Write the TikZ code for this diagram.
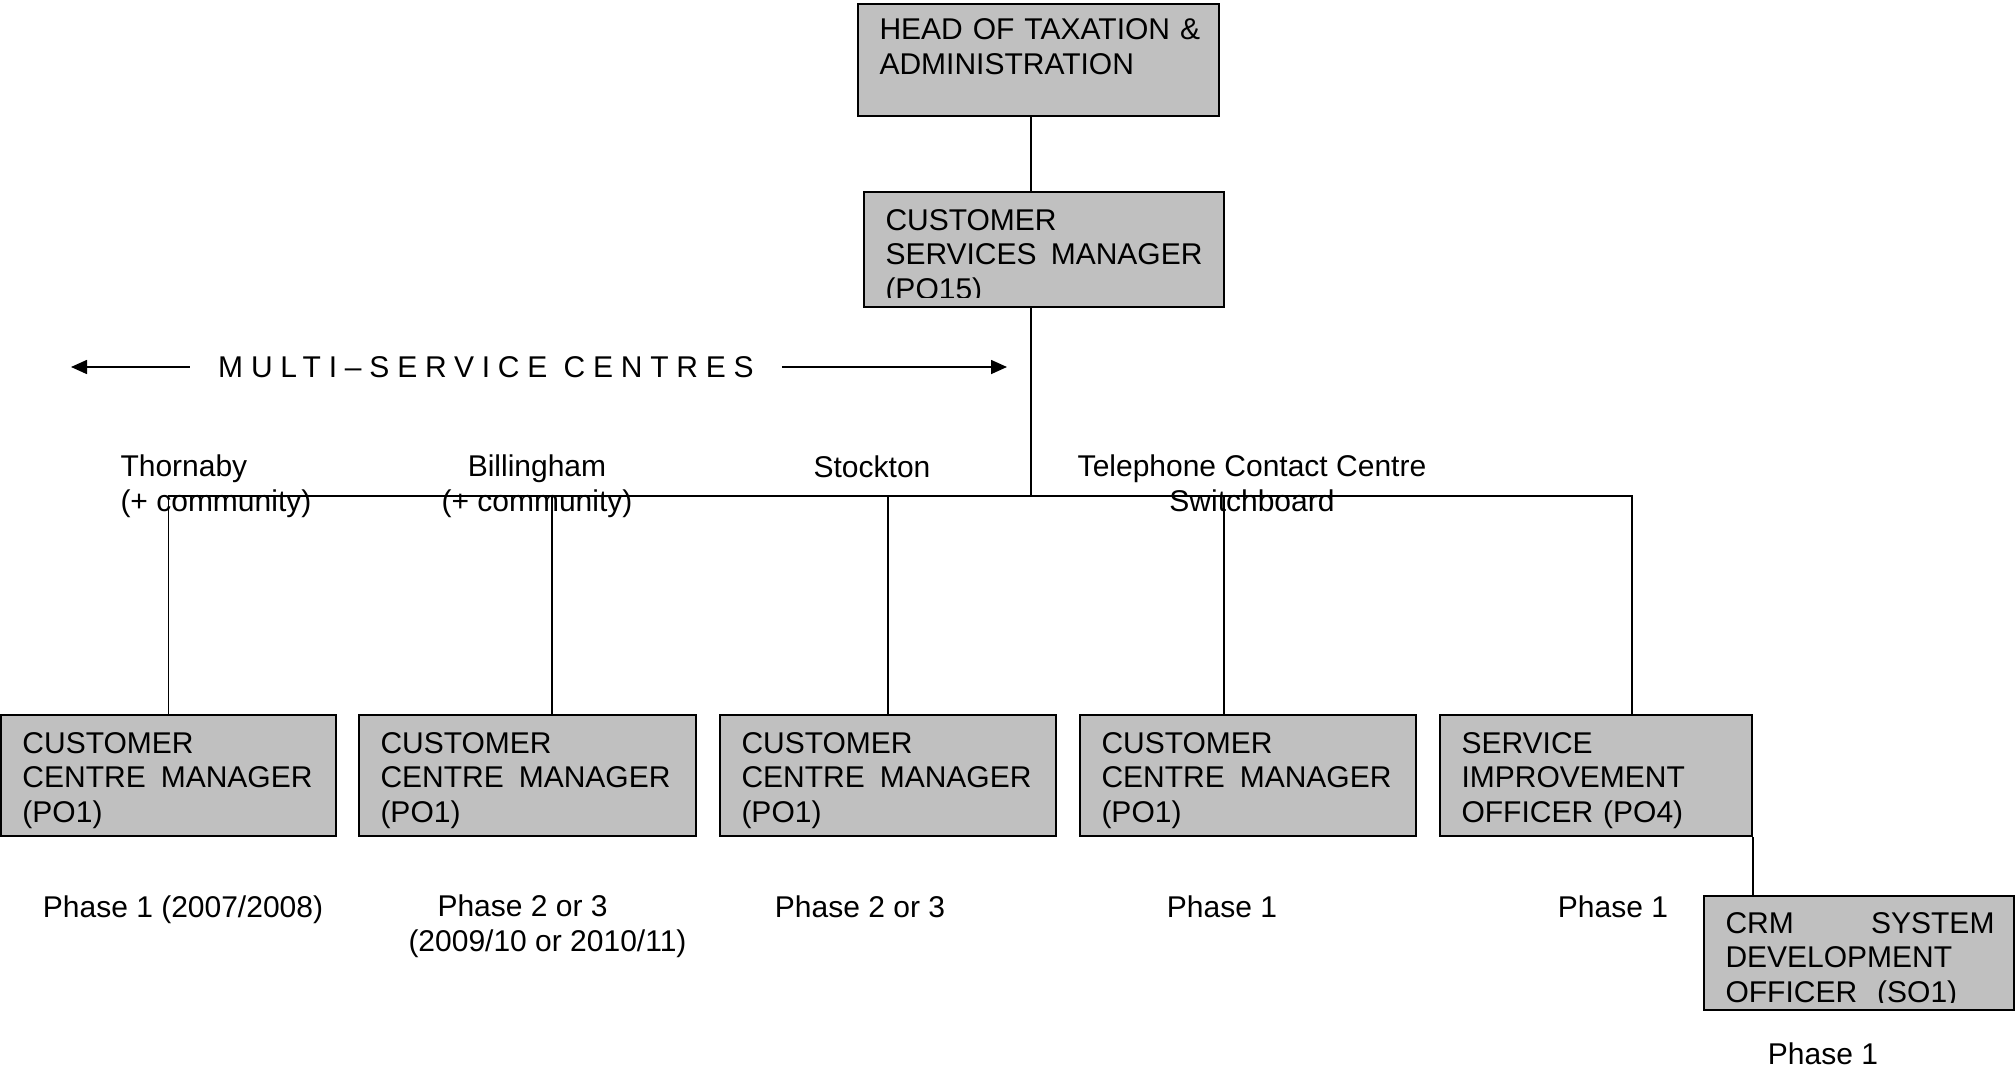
\documentclass[tikz,border=0pt]{standalone}
\usepackage{fontspec}
\setmainfont{Liberation Sans}
\usetikzlibrary{arrows.meta}

\definecolor{postgray}{RGB}{192,192,192}

\begin{document}
\begin{tikzpicture}[x=0.4pt, y=-0.4pt,
	every node/.style={font=\fontsize{12pt}{13.8pt}\selectfont, inner sep=0pt},
	post/.style={draw, line width=0.8pt, fill=postgray, anchor=north west, minimum height=48.4pt},
	posttext/.style={anchor=base west, align=left},
	link/.style={line width=0.65pt},
	>={Triangle[length=6.4pt, width=5.6pt]}]
	\useasboundingbox (0,0) rectangle (2015,1073);

	% posts
	\node[post, minimum width=144.4pt, minimum height=44.8pt] (head) at (857,3) {};
	\node[posttext, text width=134pt] (headtxt) at (879,40) {HEAD OF TAXATION \&\\ADMINISTRATION};

	\node[post, minimum width=144pt, minimum height=46pt] (csm) at (863,191) {};
	\begin{scope}
		\clip (csm.north west) rectangle ([yshift=4.4pt]csm.south east);
		\node[posttext, text width=126.8pt] (csmtxt) at (885,230) {CUSTOMER\\SERVICES\hfill MANAGER\\(PO15)};
	\end{scope}

	\node[post, minimum width=134pt] (ccm1) at (0,714) {};
	\node[posttext, text width=116pt] (ccm1txt) at (22,753) {CUSTOMER\\CENTRE\hfill MANAGER\\(PO1)};
	\node[post, minimum width=134.8pt] (ccm2) at (358,714) {};
	\node[posttext, text width=116pt] (ccm2txt) at (380,753) {CUSTOMER\\CENTRE\hfill MANAGER\\(PO1)};
	\node[post, minimum width=134.4pt] (ccm3) at (719,714) {};
	\node[posttext, text width=116pt] (ccm3txt) at (741,753) {CUSTOMER\\CENTRE\hfill MANAGER\\(PO1)};
	\node[post, minimum width=134.4pt] (ccm4) at (1079,714) {};
	\node[posttext, text width=116pt] (ccm4txt) at (1101,753) {CUSTOMER\\CENTRE\hfill MANAGER\\(PO1)};
	\node[post, minimum width=124.8pt] (sio) at (1439,714) {};
	\node[posttext, text width=110pt] (siotxt) at (1461,753) {SERVICE\\IMPROVEMENT\\OFFICER (PO4)};

	\node[post, minimum width=124pt, minimum height=45.6pt] (crm) at (1703,895) {};
	\begin{scope}
		\clip (crm.north west) rectangle ([yshift=3.6pt]crm.south east);
		\node[posttext, text width=107.6pt] (crmtxt) at (1725,933) {CRM\hfill SYSTEM\\DEVELOPMENT\\OFFICER~ (SO1)};
	\end{scope}

	% centres (multi-line nodes sit on their last baseline)
	\node[anchor=base west, align=left] (thornaby) at (120,511) {Thornaby\\(+ community)};
	\node[anchor=base, align=center] (billingham) at (537,511) {Billingham\\(+ community)};
	\node[anchor=base] (stockton) at (872,477) {Stockton};
	\node[anchor=base, align=center] (phone) at (1252,511) {Telephone Contact Centre\\Switchboard};

	% phases
	\node[anchor=base] (phase1) at (183,917) {Phase 1 (2007/2008)};
	\node[anchor=base west, align=left] (phase2) at (408,951) {\hspace*{11.6pt}Phase 2 or 3\\(2009/10 or 2010/11)};
	\node[anchor=base] (phase3) at (860,917) {Phase 2 or 3};
	\node[anchor=base] (phase4) at (1222,917) {Phase 1};
	\node[anchor=base] (phase5) at (1613,917) {Phase 1};
	\node[anchor=base] (phase6) at (1823,1064) {Phase 1};

	% multi-service arrow
	\coordinate (msleft) at (71,367);
	\coordinate (msright) at (1007,367);
	\node[inner xsep=11pt] (mstext) at (486,367) {\addfontfeature{LetterSpace=26}MULTI–SERVICE CENTRES};
	\draw[link, <-] (msleft) -- (mstext);
	\draw[link, ->] (mstext) -- (msright);

	% lines
	\coordinate (bus) at (1031,496);
	\draw[link] (head.south -| bus) -- (csm.north -| bus);
	\draw[link] (csm.south -| bus) -- (bus);
	\draw[link] (ccm1.north) |- (bus);
	\draw[link] ([xshift=9.8pt]ccm2.north) |- (bus);
	\draw[link] (ccm3.north) |- (bus);
	\draw[link] ([xshift=-9.6pt]ccm4.north) |- (bus);
	\draw[link] ([xshift=14.4pt]sio.north) |- (bus);
	\draw[link] (sio.south east) -- (sio.south east |- crm.north);
\end{tikzpicture}
\end{document}
